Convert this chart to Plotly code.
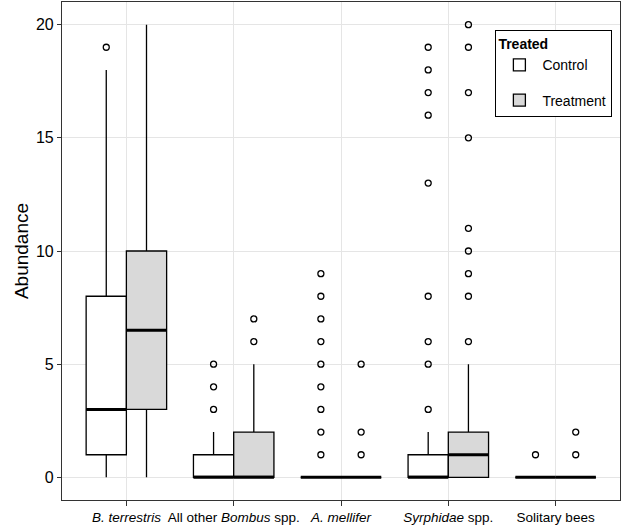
import plotly.graph_objects as go

# ---- data ----
categories = ["B. terrestris", "All other Bombus spp.", "A. mellifer", "Syrphidae spp.", "Solitary bees"]
tick_labels = ["<i>B. terrestris</i>", "All other <i>Bombus</i> spp.", "<i>A. mellifer</i>",
               "<i>Syrphidae</i> spp.", "Solitary bees"]

ctrl_lower = [0, 0, 0, 0, 0]
ctrl_q1 = [1, 0, 0, 0, 0]
ctrl_med = [3, 0, 0, 0, 0]
ctrl_q3 = [8, 1, 0, 1, 0]
ctrl_upper = [18, 2, 0, 2, 0]
ctrl_outliers = [[19], [3, 4, 5], [1, 2, 3, 4, 5, 6, 7, 8, 9],
                 [3, 5, 6, 8, 13, 16, 17, 18, 19], [1]]

trt_lower = [0, 0, 0, 0, 0]
trt_q1 = [3, 0, 0, 0, 0]
trt_med = [6.5, 0, 0, 1, 0]
trt_q3 = [10, 2, 0, 2, 0]
trt_upper = [20, 5, 0, 5, 0]
trt_outliers = [[], [6, 7], [1, 2, 5], [6, 8, 9, 10, 11, 15, 17, 19, 20], [1, 2]]

groups = [
    ("Control", "white", -1, ctrl_lower, ctrl_q1, ctrl_med, ctrl_q3, ctrl_upper, ctrl_outliers),
    ("Treatment", "#d9d9d9", 1, trt_lower, trt_q1, trt_med, trt_q3, trt_upper, trt_outliers),
]

BW = 0.375
FONT = "Liberation Sans, Arial, Helvetica, sans-serif"

fig = go.Figure()
for name, fill, side, lo, q1, med, q3, up, outs in groups:
    xs = [i + 1 + side * BW / 2 for i in range(len(categories))]
    fig.add_trace(go.Box(
        x=xs, q1=q1, median=med, q3=q3, lowerfence=lo, upperfence=up,
        width=BW, whiskerwidth=0, fillcolor=fill, line=dict(color="black", width=1.3),
        boxpoints=False, name=name, legendgroup=name, showlegend=True, hoverinfo="skip",
    ))
    # thicker median line
    fig.add_trace(go.Box(
        x=xs, q1=med, median=med, q3=med, lowerfence=med, upperfence=med,
        width=BW, whiskerwidth=0, fillcolor="rgba(0,0,0,0)", line=dict(color="black", width=3),
        boxpoints=False, showlegend=False, hoverinfo="skip",
    ))
    ox, oy = [], []
    for i, vals in enumerate(outs):
        for v in vals:
            ox.append(xs[i])
            oy.append(v)
    fig.add_trace(go.Scatter(
        x=ox, y=oy, mode="markers", showlegend=False, hoverinfo="skip",
        marker=dict(symbol="circle-open", size=6, color="black", line=dict(width=1.3)),
    ))

fig.update_layout(
    width=622, height=528,
    margin=dict(l=62, r=2, t=2, b=28, autoexpand=False),
    paper_bgcolor="white", plot_bgcolor="white",
    font=dict(family=FONT, color="black"),
    legend=dict(
        title=dict(text="<b>Treated</b>", font=dict(size=14)),
        x=0.986, y=0.944, xanchor="right", yanchor="top",
        bordercolor="black", borderwidth=1.2, bgcolor="white",
        font=dict(size=14), tracegroupgap=14, itemwidth=36,
    ),
)
fig.update_xaxes(
    range=[0.4, 5.6], tickmode="array", tickvals=list(range(1, len(categories) + 1)),
    ticktext=tick_labels, tickfont=dict(size=13.5), ticks="outside", ticklen=5,
    tickcolor="#333333", showgrid=True, gridcolor="#e5e5e5", gridwidth=1,
    showline=True, linecolor="#333333", linewidth=1.2, mirror=True, zeroline=False,
    automargin=False,
)
fig.update_yaxes(
    range=[-1, 21], tickvals=[0, 5, 10, 15, 20], tickfont=dict(size=16),
    ticks="outside", ticklen=4, tickcolor="#333333",
    showgrid=True, gridcolor="#e5e5e5", gridwidth=1,
    showline=True, linecolor="#333333", linewidth=1.2, mirror=True, zeroline=False,
    title=dict(text="Abundance", font=dict(size=19), standoff=2),
    automargin=False,
)

fig.write_html("out.html", config={"displayModeBar": False},
               post_script="document.body.style.margin='0';")
